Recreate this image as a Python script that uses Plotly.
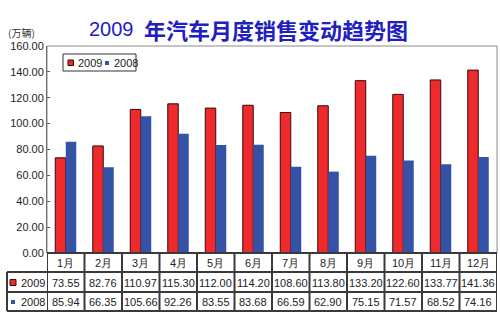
import plotly.graph_objects as go

# Monthly vehicle sales (10k units)
months = ["1月", "2月", "3月", "4月", "5月", "6月", "7月", "8月", "9月", "10月", "11月", "12月"]
sales_2009 = [73.55, 82.76, 110.97, 115.30, 112.00, 114.20, 108.60, 113.80, 133.20, 122.60, 133.77, 141.36]
sales_2008 = [85.94, 66.35, 105.66, 92.26, 83.55, 83.68, 66.59, 62.90, 75.15, 71.57, 68.52, 74.16]
series_names = ["2009", "2008"]
y_ticks = [0, 20, 40, 60, 80, 100, 120, 140, 160]

RED = "#EE2A2C"
BLUE = "#3452A6"
RED_EDGE = "#3a0808"
TXT = "#222222"
GRID = "#3a3a3a"
FONT = "Liberation Sans, Arial, sans-serif"

W, H = 500, 326
ML, MR, MT, MB = 47, 3, 46, 73
plot_h = H - MT - MB


def py(pixel_y):
    """Convert a pixel row to paper y."""
    return (H - MB - pixel_y) / plot_h


def px(pixel_x):
    """Convert a pixel column to paper x."""
    return (pixel_x - ML) / (W - ML - MR)


def label(x, y, text, size=11, xref="paper", xanchor="center", color=TXT, family=FONT):
    return dict(x=x, y=y, xref=xref, yref="paper", text=text, showarrow=False,
                xanchor=xanchor, yanchor="middle",
                font=dict(size=size, color=color, family=family))


fig = go.Figure()
fig.add_trace(go.Bar(
    x=months, y=sales_2009, name=series_names[0],
    marker=dict(color=RED, line=dict(color=RED_EDGE, width=1)),
))
fig.add_trace(go.Bar(
    x=months, y=sales_2008, name=series_names[1],
    marker=dict(color=BLUE, line=dict(width=0)),
))

shapes = []
annotations = []

# plot area frame
shapes.append(dict(type="rect", xref="paper", yref="paper", x0=0, y0=0, x1=1, y1=1,
                   line=dict(color="#8a8a8a", width=1), layer="above"))

# data table below the axis
row_lines = [253, 272, 292, 311]
for i, yline in enumerate(row_lines):
    x0 = 0 if i == 0 else px(7)
    shapes.append(dict(type="line", xref="paper", yref="paper", x0=x0, x1=1,
                       y0=py(yline), y1=py(yline), line=dict(color=GRID, width=2)))
for k in range(len(months) + 1):
    shapes.append(dict(type="line", xref="x", yref="paper", x0=k - 0.5, x1=k - 0.5,
                       y0=py(253), y1=py(311), line=dict(color=GRID, width=2)))
shapes.append(dict(type="line", xref="paper", yref="paper", x0=px(7), x1=px(7),
                   y0=py(272), y1=py(311), line=dict(color=GRID, width=2)))

row_y = {"cat": py(263), "2009": py(282.5), "2008": py(302)}
for m, a, b in zip(months, sales_2009, sales_2008):
    annotations.append(label(m, row_y["cat"], m, xref="x"))
    annotations.append(label(m, row_y["2009"], f"{a:.2f}", xref="x"))
    annotations.append(label(m, row_y["2008"], f"{b:.2f}", xref="x"))

# row headers with colour keys
shapes.append(dict(type="rect", xref="paper", yref="paper", x0=px(10), x1=px(16),
                   y0=py(285.5), y1=py(279.5), fillcolor=RED, line=dict(color=RED_EDGE, width=1)))
shapes.append(dict(type="rect", xref="paper", yref="paper", x0=px(11), x1=px(15),
                   y0=py(304), y1=py(300), fillcolor=BLUE, line=dict(width=0)))
for name in series_names:
    annotations.append(label(px(19), row_y[name], name, xanchor="left"))

# legend box
shapes.append(dict(type="rect", xref="paper", yref="paper", x0=px(63), x1=px(136),
                   y0=py(71), y1=py(54), fillcolor="white", line=dict(color="#333333", width=1)))
shapes.append(dict(type="rect", xref="paper", yref="paper", x0=px(68), x1=px(73.5),
                   y0=py(65.5), y1=py(60), fillcolor=RED, line=dict(color=RED_EDGE, width=1)))
shapes.append(dict(type="rect", xref="paper", yref="paper", x0=px(105), x1=px(109),
                   y0=py(65), y1=py(61), fillcolor=BLUE, line=dict(width=0)))
annotations.append(label(px(76), py(62.5), series_names[0], xanchor="left"))
annotations.append(label(px(112), py(62.5), series_names[1], xanchor="left"))

# title and unit
annotations.append(label(px(136), py(29), "2009", size=20, xanchor="right", color="#2020C8"))
annotations.append(label(px(142), py(29), "<b>年汽车月度销售变动趋势图</b>", size=22,
                         xanchor="left", color="#2020C0", family="Noto Sans CJK SC"))
annotations.append(label(px(21), py(33), "(万辆)", size=10, color="#333333",
                         family="Noto Sans CJK SC"))

fig.update_layout(
    width=W, height=H,
    margin=dict(l=ML, r=MR, t=MT, b=MB),
    paper_bgcolor="white", plot_bgcolor="white",
    barmode="group", bargap=0.44, bargroupgap=0,
    showlegend=False,
    xaxis=dict(showticklabels=False, showline=False, showgrid=False, ticks="",
               range=[-0.5, len(months) - 0.5]),
    yaxis=dict(range=[0, 160], tickvals=y_ticks, tickformat=".2f",
               showgrid=False, zeroline=False, showline=True, linecolor="#555555",
               ticks="inside", ticklen=3, tickcolor="#555555",
               tickfont=dict(size=11, color=TXT, family=FONT)),
    shapes=shapes,
    annotations=annotations,
)

fig.write_html("out.html")
